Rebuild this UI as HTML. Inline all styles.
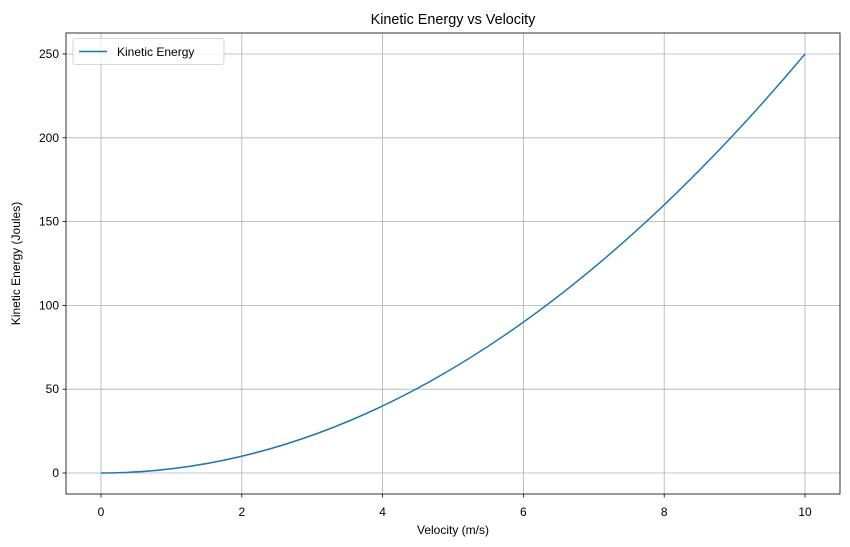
<!DOCTYPE html>
<html><head><meta charset="utf-8"><style>
html,body{margin:0;padding:0;background:#fff;}
svg{display:block;font-family:"Liberation Sans","DejaVu Sans",sans-serif;}
</style></head><body>
<svg width="850" height="547" viewBox="0 0 850 547" xmlns="http://www.w3.org/2000/svg">
<rect width="850" height="547" fill="#fff"/>
<g stroke="#b0b0b0" stroke-width="0.8">
<line x1="101" y1="33" x2="101" y2="494"/>
<line x1="241.8" y1="33" x2="241.8" y2="494"/>
<line x1="382.6" y1="33" x2="382.6" y2="494"/>
<line x1="523.4" y1="33" x2="523.4" y2="494"/>
<line x1="664.2" y1="33" x2="664.2" y2="494"/>
<line x1="805" y1="33" x2="805" y2="494"/>
<line x1="66" y1="473" x2="840" y2="473"/>
<line x1="66" y1="389.2" x2="840" y2="389.2"/>
<line x1="66" y1="305.4" x2="840" y2="305.4"/>
<line x1="66" y1="221.6" x2="840" y2="221.6"/>
<line x1="66" y1="137.8" x2="840" y2="137.8"/>
<line x1="66" y1="54" x2="840" y2="54"/>
</g>
<path d="M101,473 Q453,473 805,54" fill="none" stroke="#1f77b4" stroke-width="1.5"/>
<rect x="66" y="33" width="774" height="461" fill="none" stroke="#000" stroke-width="0.8"/>
<g stroke="#000" stroke-width="0.8">
<line x1="101" y1="494" x2="101" y2="497.5"/>
<line x1="241.8" y1="494" x2="241.8" y2="497.5"/>
<line x1="382.6" y1="494" x2="382.6" y2="497.5"/>
<line x1="523.4" y1="494" x2="523.4" y2="497.5"/>
<line x1="664.2" y1="494" x2="664.2" y2="497.5"/>
<line x1="805" y1="494" x2="805" y2="497.5"/>
<line x1="62.5" y1="473" x2="66" y2="473"/>
<line x1="62.5" y1="389.2" x2="66" y2="389.2"/>
<line x1="62.5" y1="305.4" x2="66" y2="305.4"/>
<line x1="62.5" y1="221.6" x2="66" y2="221.6"/>
<line x1="62.5" y1="137.8" x2="66" y2="137.8"/>
<line x1="62.5" y1="54" x2="66" y2="54"/>
</g>
<g font-size="12" fill="#000" text-anchor="middle">
<text x="101" y="516">0</text>
<text x="241.8" y="516">2</text>
<text x="382.6" y="516">4</text>
<text x="523.4" y="516">6</text>
<text x="664.2" y="516">8</text>
<text x="805" y="516">10</text>
</g>
<g font-size="12" fill="#000" text-anchor="end">
<text x="59" y="477">0</text>
<text x="59" y="393.2">50</text>
<text x="59" y="309.4">100</text>
<text x="59" y="225.6">150</text>
<text x="59" y="141.8">200</text>
<text x="59" y="58">250</text>
</g>
<text x="453" y="534" font-size="12" text-anchor="middle">Velocity (m/s)</text>
<text transform="translate(20,263.5) rotate(-90)" font-size="12" text-anchor="middle">Kinetic Energy (Joules)</text>
<text x="453" y="24" font-size="14.4" text-anchor="middle">Kinetic Energy vs Velocity</text>
<rect x="73" y="38.5" width="151" height="26" rx="2.5" fill="#fff" fill-opacity="0.8" stroke="#ccc" stroke-width="0.8"/>
<line x1="79" y1="51.5" x2="107" y2="51.5" stroke="#1f77b4" stroke-width="1.5"/>
<text x="117" y="56" font-size="12">Kinetic Energy</text>
</svg>
</body></html>
